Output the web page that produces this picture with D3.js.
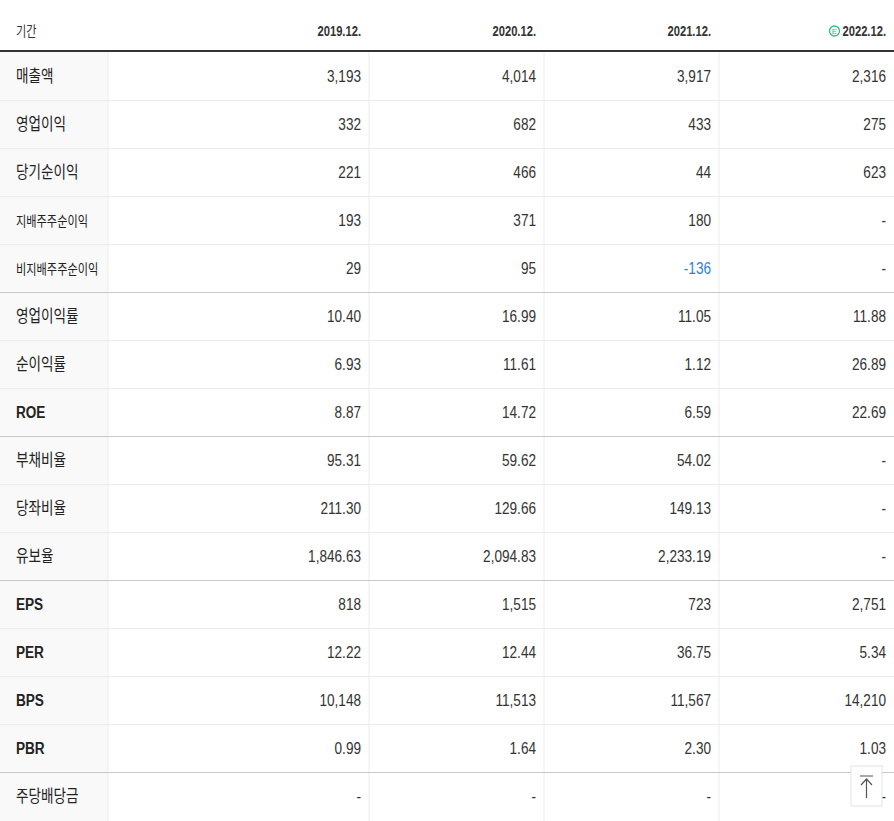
<!DOCTYPE html>
<html><head><meta charset="utf-8">
<script src="https://cdn.jsdelivr.net/npm/d3@7"></script>
<style>body{margin:0;background:#fff}</style>
</head><body>
<svg id="tbl"></svg>
<script>
var periods = ["2019.12.", "2020.12.", "2021.12.", "2022.12."];
var items = ["매출액","영업이익","당기순이익","지배주주순이익","비지배주주순이익","영업이익률","순이익률","ROE","부채비율","당좌비율","유보율","EPS","PER","BPS","PBR","주당배당금"];
var v2019 = ["3,193","332","221","193","29","10.40","6.93","8.87","95.31","211.30","1,846.63","818","12.22","10,148","0.99","-"];
var v2020 = ["4,014","682","466","371","95","16.99","11.61","14.72","59.62","129.66","2,094.83","1,515","12.44","11,513","1.64","-"];
var v2021 = ["3,917","433","44","180","-136","11.05","1.12","6.59","54.02","149.13","2,233.19","723","36.75","11,567","2.30","-"];
var v2022 = ["2,316","275","623","-","-","11.88","26.89","22.69","-","-","-","2,751","5.34","14,210","1.03","-"];
var groupEnds = [4, 7, 10, 14];

var width = 894, height = 821, sx = 0.8;
var svg = d3.select("#tbl").attr("width", width).attr("height", height)
  .style("font-family", "'Liberation Sans', 'Noto Sans CJK KR', sans-serif");

var cols = [v2019, v2020, v2021, v2022];
var y = d3.scaleBand().domain(d3.range(items.length)).range([52, 52 + 48 * items.length]);
var colEdge = d3.scaleOrdinal().domain(d3.range(4)).range([108, 369, 544, 719]);
var colRight = d3.scaleOrdinal().domain(d3.range(4)).range([361, 536, 711, 886]);

function place(x, yy){ return "translate(" + x + "," + yy + ") scale(" + sx + ",1)"; }

svg.append("rect").attr("x", 0).attr("y", 52).attr("width", 108).attr("height", height - 52).attr("fill", "#f9f9f9");

svg.selectAll("line.v").data(d3.range(4)).enter().append("line")
  .attr("x1", function(d){return colEdge(d);}).attr("x2", function(d){return colEdge(d);})
  .attr("y1", 52).attr("y2", height).attr("stroke", "#ececec");

svg.selectAll("line.h").data(d3.range(1, items.length)).enter().append("line")
  .attr("x1", 0).attr("x2", width)
  .attr("y1", function(d){return y(d) + 0.5;}).attr("y2", function(d){return y(d) + 0.5;})
  .attr("stroke", function(d){return groupEnds.indexOf(d - 1) >= 0 ? "#c8c8c8" : "#ececec";});

// header
svg.append("line").attr("x1", 0).attr("x2", width).attr("y1", 51).attr("y2", 51).attr("stroke", "#333").attr("stroke-width", 2);
svg.append("text").attr("transform", place(16, 36)).attr("font-size", 14).attr("fill", "#333").text("기간");
var hd = svg.selectAll("text.hd").data(periods).enter().append("text")
  .attr("transform", function(d,i){return place(colRight(i), 36);})
  .attr("text-anchor", "end").attr("font-size", 14).attr("font-weight", "bold").attr("fill", "#333")
  .text(function(d){return d;});
var lastW = hd.nodes()[3].getComputedTextLength() * sx;
var ex = colRight(3) - lastW - 8;
svg.append("circle").attr("cx", ex).attr("cy", 31).attr("r", 5).attr("fill", "#fff").attr("stroke", "#27c28c").attr("stroke-width", 1.3);
svg.append("text").attr("x", ex).attr("y", 34).attr("text-anchor", "middle").attr("font-size", 8).attr("fill", "#27c28c").text("E");

// labels
svg.selectAll("text.lb").data(items).enter().append("text")
  .attr("transform", function(d,i){return place(16, y(i) + 30);})
  .attr("font-size", function(d){return d.length > 5 ? 14 : 17;})
  .attr("font-weight", function(d){return /[A-Z]/.test(d) ? "bold" : "normal";})
  .attr("fill", "#222").text(function(d){return d;});

// values
cols.forEach(function(col, c){
  svg.selectAll("text.c" + c).data(col).enter().append("text")
    .attr("transform", function(d,i){return place(colRight(c), y(i) + 30);})
    .attr("text-anchor", "end").attr("font-size", 17)
    .attr("fill", function(d){return d.charAt(0) === "-" && d.length > 1 ? "#2b7fe0" : "#333";})
    .text(function(d){return d;});
});

var b = svg.append("g").attr("transform", "translate(851,766)");
b.append("rect").attr("width", 31).attr("height", 40).attr("fill", "#fff").attr("stroke", "#e4e4e4");
b.append("path").attr("d", "M9,10H22M15.5,13V32M10,19L15.5,13L21,19").attr("stroke", "#555").attr("fill", "none").attr("stroke-width", 1.2);
</script>
</body></html>
